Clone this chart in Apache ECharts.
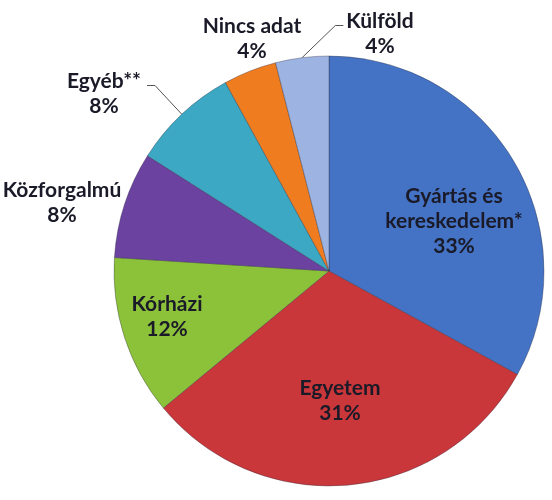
<!DOCTYPE html>
<html><head><meta charset="utf-8">
<script src="https://cdn.jsdelivr.net/npm/echarts@6/dist/echarts.min.js"></script>
<style>html,body{margin:0;padding:0;background:#fff}#c{width:552px;height:500px}</style>
</head><body><div id="c"></div>
<script>
const categories = ['Gyártás és\nkereskedelem*', 'Egyetem', 'Kórházi', 'Közforgalmú', 'Egyéb**', 'Nincs adat', 'Külföld'];
const values = [33, 31, 12, 8, 8, 4, 4];
const colors = ['#4472c4', '#c9373a', '#8cc13a', '#6c42a0', '#3ca8c4', '#ef7d1f', '#9db4e2'];
const labelPos = ['inside', 'inside', 'inside', 'outside', 'outside', 'outside', 'outside'];
const showLine = [false, false, false, false, true, false, true];
// label block centres (layout)
const labelCenters = [[454, 221], [340, 401], [167, 317], [62, 203], [104, 94], [252, 39], [380, 34]];
const lineSide = [0, 0, 0, 0, 1, 0, -1]; // 1: line attaches right of label, -1: left
const LH = 25;

const chart = echarts.init(document.getElementById('c'), null, {renderer: 'canvas'});
chart.setOption({
  animation: false,
  series: [{
    type: 'pie',
    center: [329, 271],
    radius: 215,
    startAngle: 90,
    clockwise: true,
    avoidLabelOverlap: false,
    itemStyle: {borderColor: 'rgba(40,40,60,0.35)', borderWidth: 1},
    label: {
      fontFamily: 'Lato', fontWeight: 'bold', fontSize: 21, lineHeight: LH,
      color: '#1a1a28', align: 'center', overflow: 'none',
      formatter: p => p.name + '\n' + p.value + '%'
    },
    labelLine: {lineStyle: {color: '#555', width: 1}, length: 20, length2: 10, smooth: false},
    labelLayout: p => {
      const i = p.dataIndex;
      const [cx, cy] = labelCenters[i];
      const out = {x: cx, y: cy, align: 'center', verticalAlign: 'middle'};
      if (lineSide[i] !== 0 && p.labelLinePoints) {
        const w = p.labelRect.width, h = p.labelRect.height;
        const firstY = cy - h / 2 + LH / 2 + 4;
        const endX = lineSide[i] > 0 ? cx + w / 2 + 6 : cx - w / 2 - 3;
        const elbowX = endX + lineSide[i] * 8;
        out.labelLinePoints = [p.labelLinePoints[0], [elbowX, firstY], [endX, firstY]];
      }
      return out;
    },
    data: categories.map((n, i) => ({
      name: n, value: values[i],
      itemStyle: {color: colors[i]},
      label: {position: labelPos[i]},
      labelLine: {show: showLine[i]}
    }))
  }]
});
</script></body></html>
